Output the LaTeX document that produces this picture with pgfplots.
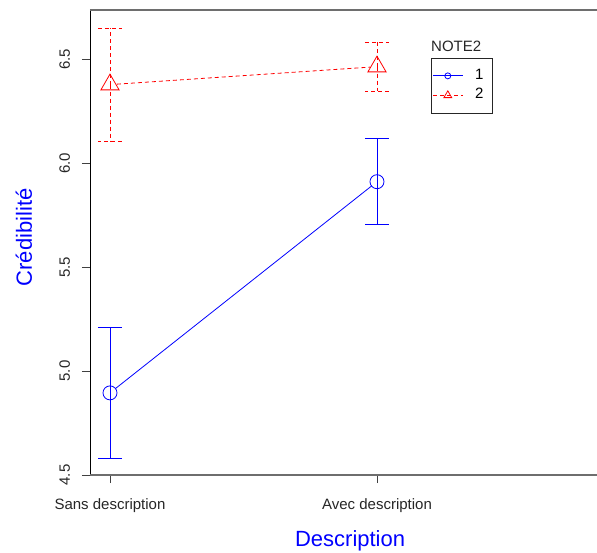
\documentclass[border=0pt]{standalone}
\usepackage{pgfplots}
\pgfplotsset{compat=1.18}
\usepackage{fontspec}
\setmainfont{Liberation Sans}

\definecolor{rblue}{RGB}{0,0,255}
\definecolor{rred}{RGB}{255,0,0}
\definecolor{axgray}{RGB}{110,110,110}

\tikzset{rdash/.style={dash pattern=on 4pt off 3pt}}

\begin{document}
\begin{tikzpicture}
\useasboundingbox (-90pt,-77pt) rectangle (507pt,475pt);
\begin{axis}[
  at={(0,0)}, anchor=south west,
  scale only axis, width=507pt, height=465pt,
  xmin=-0.0749, xmax=1.824, ymin=4.5, ymax=6.737,
  axis line style={draw=none},
  xtick={0,1}, xticklabels={Sans description, Avec description},
  ytick={4.5,5.0,5.5,6.0,6.5},
  xtick pos=left, ytick pos=left,
  tick align=outside, major tick length=8pt,
  major tick style={draw=black!75, line width=0.8pt},
  every tick label/.append style={font=\fontsize{15}{15}\selectfont, text=black!85},
  yticklabel style={xshift=-12pt, rotate=90, anchor=base},
  xticklabel style={anchor=base, yshift=-26pt},
  /pgf/number format/.cd, fixed, fixed zerofill, precision=1, assume math mode=true,
  /pgfplots/.cd,
  xlabel={Description}, ylabel={Crédibilité},
  label style={font=\fontsize{22}{22}\selectfont, text=rblue},
  xlabel style={at={(axis description cs:0.513,0)}, anchor=base, yshift=-71.7pt},
  ylabel style={at={(axis description cs:0,0.511)}, anchor=base, yshift=58pt},
  legend image code/.code={\draw[mark repeat=2, mark phase=2, #1] plot coordinates {(0pt,0pt) (15pt,0pt) (30pt,0pt)};},
  legend style={at={(axis description cs:0.6726,0.8974)}, anchor=north west,
    draw=black!85, line width=0.8pt, fill=white, inner xsep=1pt, inner ysep=8pt,
    font=\fontsize{15}{15}\selectfont,
    nodes={inner sep=2pt, text height=11pt, text depth=4.5pt},
    cells={anchor=west}},
  legend cell align=left,
  clip=false,
]

% frame: left, bottom and top edges
\draw[black, line width=0.8pt] (rel axis cs:0,0) -- (rel axis cs:0,1);
\draw[axgray, line width=1.3pt] (rel axis cs:0,0) -- (rel axis cs:1,0);
\draw[axgray, line width=1.3pt] (rel axis cs:0,1) -- (rel axis cs:1,1);

% legend samples
\addlegendimage{rblue, line width=0.8pt, mark=o, mark size=3pt}
\addlegendentry{\kern10pt 1\kern6pt}
\addlegendimage{rred, line width=0.8pt, rdash, mark=triangle, mark size=4.5pt, mark options={solid}}
\addlegendentry{\kern10pt 2\kern6pt}

% NOTE2 = 1: connecting segment, then means with error bars
\addplot[rblue, line width=0.8pt, shorten <=7pt, shorten >=7pt, forget plot]
  coordinates {(0,4.895) (1,5.911)};
\addplot[rblue, line width=0.8pt, only marks, mark=o, mark size=7pt, forget plot,
  error bars/.cd, y dir=both, y explicit,
  error bar style={rblue, line width=0.8pt},
  error mark options={rblue, line width=0.8pt, mark size=12pt, rotate=90}]
  coordinates {(0,4.895) +- (0,0.314) (1,5.911) +- (0,0.206)};

% NOTE2 = 2
\addplot[rred, line width=0.8pt, rdash, shorten <=7pt, shorten >=7pt, forget plot]
  coordinates {(0,6.378) (1,6.4645)};
\addplot[rred, line width=0.8pt, only marks, mark=triangle, mark size=10.5pt, mark options={solid}, forget plot,
  error bars/.cd, y dir=both, y explicit,
  error bar style={rred, line width=0.8pt, rdash},
  error mark options={rred, line width=0.8pt, mark size=12pt, rotate=90, rdash}]
  coordinates {(0,6.378) +- (0,0.271) (1,6.4645) +- (0,0.119)};

\node[anchor=base west, inner sep=0pt, font=\fontsize{15}{15}\selectfont, text=black!85]
  at (axis description cs:0.6726,0.9103) {NOTE2};
\end{axis}
\end{tikzpicture}
\end{document}
